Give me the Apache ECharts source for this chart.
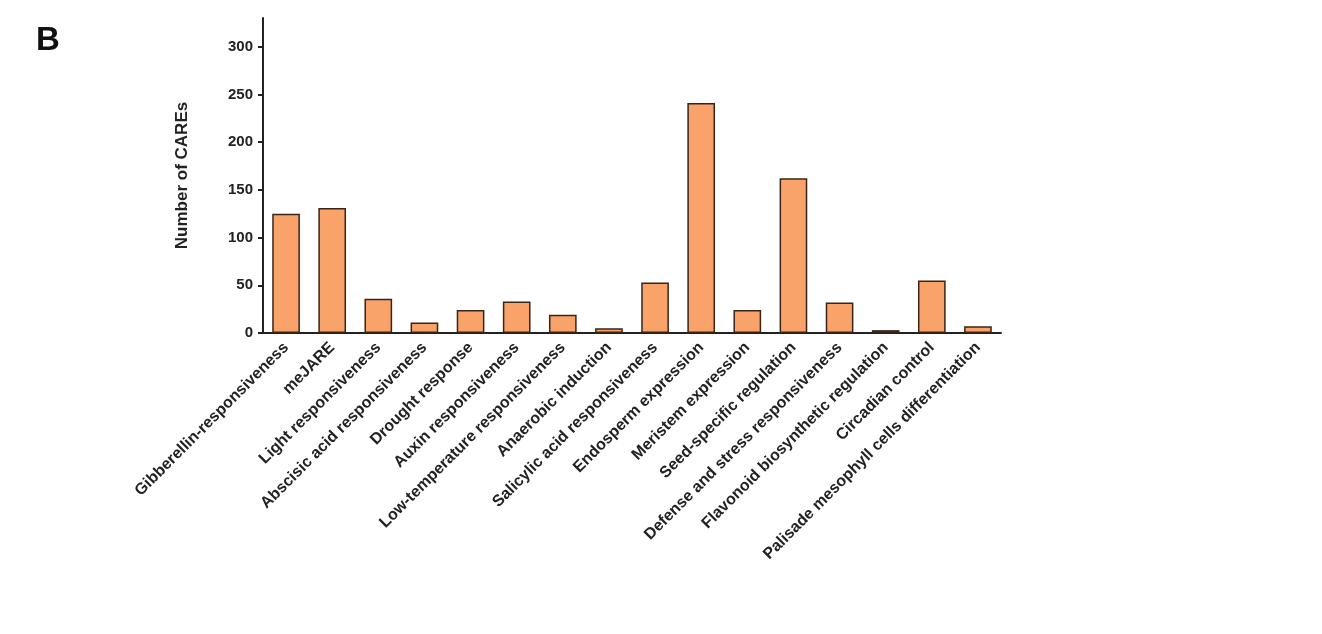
<!DOCTYPE html>
<html><head><meta charset="utf-8">
<script src="https://cdn.jsdelivr.net/npm/echarts@6/dist/echarts.min.js"></script>
<style>html,body{margin:0;background:#fff}#c{width:1322px;height:634px}</style>
</head><body><div id="c"></div>
<script>
const categories = ['Gibberellin-responsiveness', 'meJARE', 'Light responsiveness', 'Abscisic acid responsiveness',
  'Drought response', 'Auxin responsiveness', 'Low-temperature responsiveness', 'Anaerobic induction',
  'Salicylic acid responsiveness', 'Endosperm expression', 'Meristem expression', 'Seed-specific regulation',
  'Defense and stress responsiveness', 'Flavonoid biosynthetic regulation', 'Circadian control',
  'Palisade mesophyll cells differentiation'];
const counts = [125, 131, 36, 11, 24, 33, 19, 5, 53, 241, 24, 162, 32, 3, 55, 7];

const chart = echarts.init(document.getElementById('c'));
chart.setOption({
  animation: false,
  graphic: [{ type: 'text', left: 36, top: 24, style: { text: 'B', font: 'bold 33px Arial', fill: '#111' } }],
  grid: { left: 263, top: 18, width: 738, bottom: 301 },
  xAxis: {
    type: 'category', data: categories,
    axisLine: { lineStyle: { color: '#222', width: 2 } },
    axisTick: { show: false },
    axisLabel: { rotate: 45, interval: 0, color: '#222', fontWeight: 'bold', fontSize: 16, fontFamily: 'Arial', margin: 12 }
  },
  yAxis: {
    type: 'value', min: 0, max: 330, interval: 50,
    name: 'Number of CAREs', nameLocation: 'middle', nameGap: 72,
    nameTextStyle: { color: '#222', fontWeight: 'bold', fontSize: 17, fontFamily: 'Arial' },
    axisLine: { show: true, lineStyle: { color: '#222', width: 2 } },
    axisTick: { show: true, length: 5, lineStyle: { color: '#222', width: 2 } },
    axisLabel: { showMaxLabel: false, color: '#222', fontWeight: 'bold', fontSize: 15, fontFamily: 'Arial', margin: 10 },
    splitLine: { show: false }
  },
  series: [{
    type: 'bar', data: counts, barWidth: '60%',
    itemStyle: { color: '#F9A36A', borderColor: '#3a2418', borderWidth: 1.5 }
  }]
});
</script></body></html>
